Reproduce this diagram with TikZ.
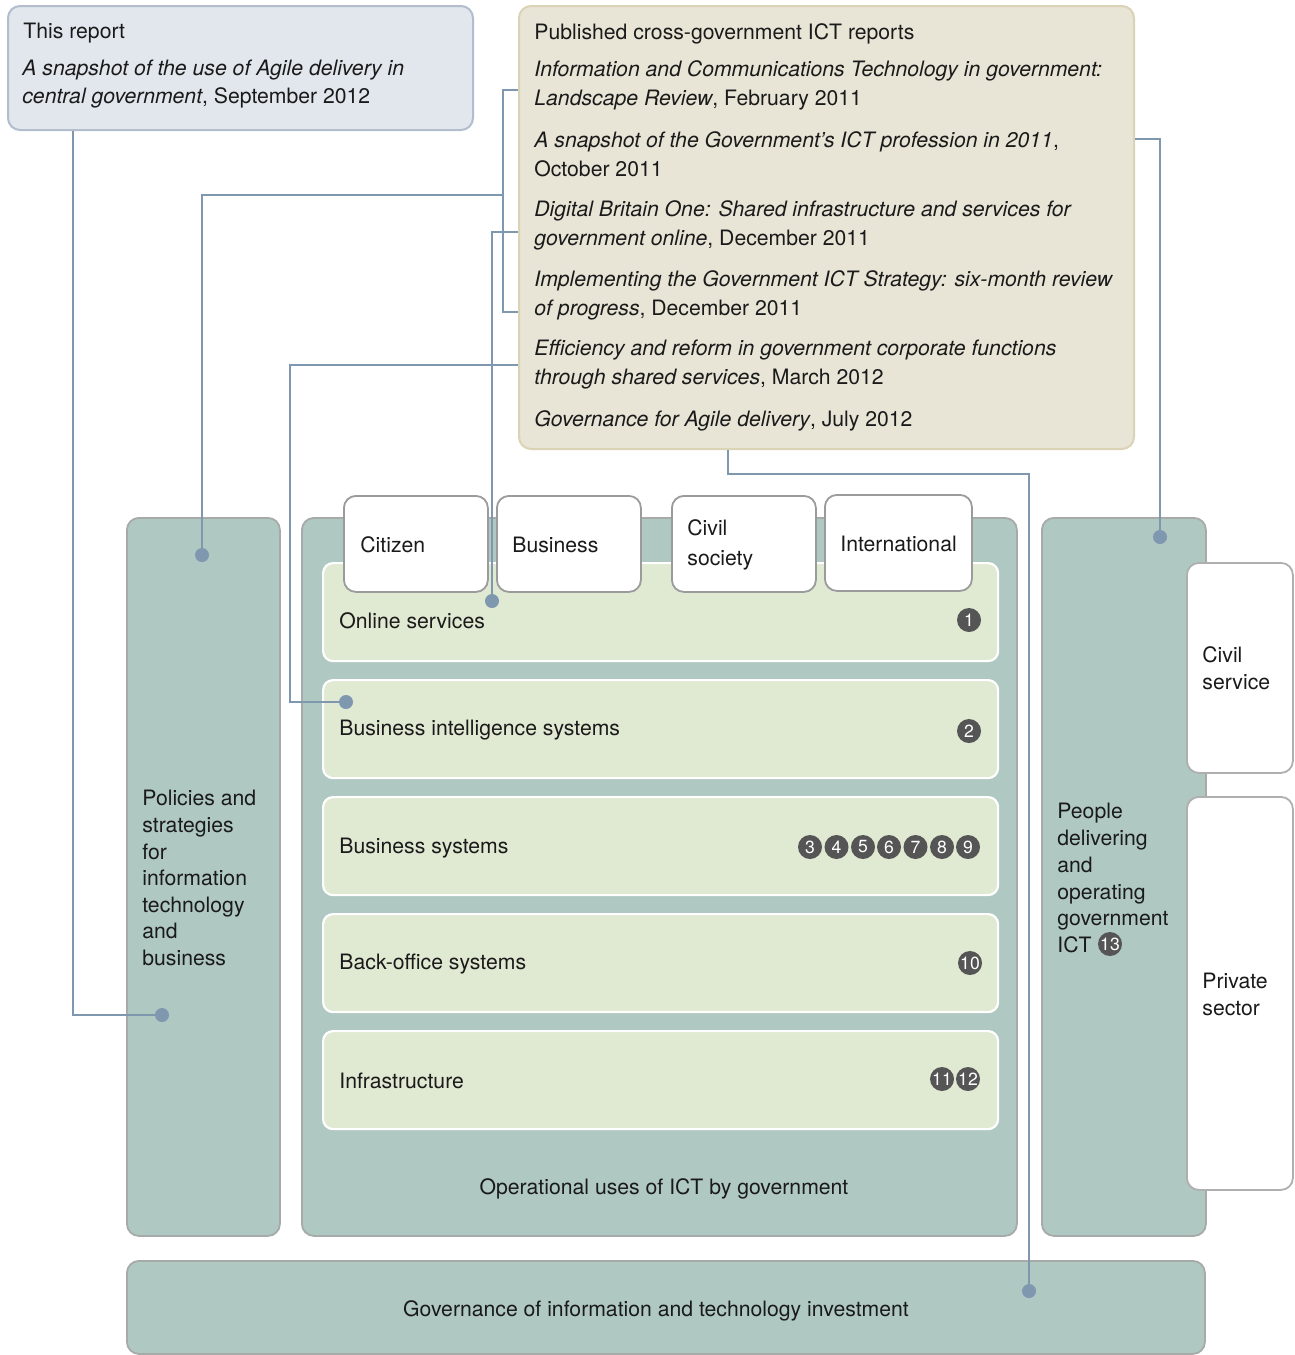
\documentclass[tikz,border=0pt]{standalone}
\usepackage{fontspec}
\setmainfont{TeX Gyre Heros}
\usepackage{xcolor}
\usetikzlibrary{positioning}
\definecolor{thisfill}{RGB}{226,231,238}
\definecolor{thisdraw}{RGB}{178,190,206}
\definecolor{pubfill}{RGB}{232,228,214}
\definecolor{pubdraw}{RGB}{218,211,182}
\definecolor{pillarfill}{RGB}{175,200,194}
\definecolor{pillardraw}{RGB}{166,170,168}
\definecolor{rowfill}{RGB}{224,233,210}
\definecolor{tabdraw}{RGB}{155,155,155}
\definecolor{linkcol}{RGB}{128,151,176}
\definecolor{numfill}{RGB}{85,85,85}
\definecolor{inkcol}{RGB}{26,26,26}
\tikzset{
  every node/.style={font=\fontsize{10.6}{13.3}\selectfont,text=inkcol},
  thisbox/.style={fill=thisfill,draw=thisdraw,line width=1pt,rounded corners=6pt,anchor=north west,inner sep=0pt},
  pubbox/.style={fill=pubfill,draw=pubdraw,line width=1pt,rounded corners=6pt,anchor=north west,inner sep=0pt},
  pillar/.style={fill=pillarfill,draw=pillardraw,line width=0.9pt,rounded corners=6pt,anchor=north west,inner sep=0pt},
  rowbox/.style={fill=rowfill,draw=white,line width=1.1pt,rounded corners=5pt,anchor=north west,inner sep=0pt,minimum width=337.5pt,minimum height=49pt},
  tabbox/.style={fill=white,draw=tabdraw,line width=0.9pt,rounded corners=6pt,anchor=north west,inner sep=0pt,minimum height=48pt},
  sidebox/.style={fill=white,draw=tabdraw!80,line width=0.9pt,rounded corners=6pt,anchor=north west,inner sep=0pt,minimum width=53pt},
  lbl/.style={anchor=west,align=left,inner sep=0pt,yshift=-0.6pt},
  publbl/.style={lbl,font=\fontsize{10.6}{14.5}\selectfont},
  num/.style={circle,fill=numfill,text=white,inner sep=0pt,minimum size=12pt,font=\fontsize{8.8}{8.8}\selectfont},
  link/.style={draw=linkcol,line width=1pt},
  endpt/.style={circle,fill=linkcol,inner sep=0pt,minimum size=7pt}
}
\begin{document}
\begin{tikzpicture}[x=0.5pt,y=-0.5pt]
\useasboundingbox (0,0) rectangle (1295,1355);
% report boxes
\node[thisbox,minimum width=232.5pt,minimum height=62pt] (thisrep) at (7,5) {};
\node[lbl] at (23,32) {This report};
\node[lbl,font=\fontsize{10.6}{14}\selectfont] at (22,83) {\textit{A snapshot of the use of Agile delivery in}\\\textit{central government}, September 2012};
\node[pubbox,minimum width=307.5pt,minimum height=221.5pt] (pub) at (518,5) {};
\node[lbl] at (534,33) {Published cross-government ICT reports};
\node[publbl] at (534,84.5) {\textit{Information and Communications Technology in government:}\\\textit{Landscape Review}, February 2011};
\node[publbl] at (534,153.5) {\textit{A snapshot of the Government's ICT profession in 2011},\\October 2011};
\node[publbl] at (534,224) {\textit{Digital Britain One: Shared infrastructure and services for}\\\textit{government online}, December 2011};
\node[publbl] at (534,294.5) {\textit{Implementing the Government ICT Strategy: six-month review}\\\textit{of progress}, December 2011};
\node[publbl] at (534,363.5) {\textit{Efficiency and reform in government corporate functions}\\\textit{through shared services}, March 2012};
\node[publbl] at (534,420) {\textit{Governance for Agile delivery}, July 2012};
% pillars
\node[pillar,minimum width=76.5pt,minimum height=359pt] (policy) at (126,517) {};
\node[pillar,minimum width=357.5pt,minimum height=359pt] (ops) at (301,517) {};
\node[pillar,minimum width=82pt,minimum height=359pt] (people) at (1041,517) {};
\node[pillar,minimum width=539pt,minimum height=46.5pt] (gov) at (126,1260) {};
% rows of operational uses
\node[rowbox] (online) at (322,562) {};
\node[rowbox] (bi) at (322,679) {};
\node[rowbox] (bizsys) at (322,796) {};
\node[rowbox] (backoff) at (322,913) {};
\node[rowbox] (infra) at (322,1030) {};
\node[lbl] at (339,619.5) {Online services};
\node[lbl] at (339,729) {Business intelligence systems};
\node[lbl] at (339,847) {Business systems};
\node[lbl] at (339,963) {Back-office systems};
\node[lbl] at (339,1080) {Infrastructure};
% user tabs
\node[tabbox,minimum width=72pt] (citizen) at (343,495) {};
\node[tabbox,minimum width=72pt] (business) at (496,495) {};
\node[tabbox,minimum width=72pt] (civsoc) at (671,495) {};
\node[tabbox,minimum width=73.5pt] (intl) at (824,494) {};
\node[lbl] at (360,543.5) {Citizen};
\node[lbl] at (512,543.5) {Business};
\node[lbl,font=\fontsize{10.6}{15}\selectfont] at (687,544) {Civil\\society};
\node[lbl] at (840,542.5) {International};
% people side boxes
\node[sidebox,minimum height=105pt] (civserv) at (1186,562) {};
\node[sidebox,minimum height=196.5pt] (private) at (1186,796) {};
\node[lbl,font=\fontsize{10.6}{13.5}\selectfont] at (1202,667.5) {Civil\\service};
\node[lbl,font=\fontsize{10.6}{13.5}\selectfont] at (1202,993.5) {Private\\sector};
% pillar labels
\node[lbl] at (142,877) {Policies and\\strategies\\for\\information\\technology\\and\\business};
\node[lbl,font=\fontsize{10.6}{13.4}\selectfont] at (1057,877) {People\\delivering\\and\\operating\\government\\ICT};
\node at (664,1189) {Operational uses of ICT by government};
\node at (656,1311) {Governance of information and technology investment};
% numbered notes
\node[num] (n1) at (969,620) {1};
\node[num] (n2) at (969,731) {2};
\foreach \k/\x in {3/810,4/836.5,5/863,6/889,7/915.5,8/942,9/968}
  \node[num] (n\k) at (\x,847) {\k};
\node[num] (n10) at (970,963) {10};
\node[num] (n11) at (942,1079) {11};
\node[num] (n12) at (968,1079) {12};
\node[num] (n13) at (1110,944) {13};
% link end points
\node[endpt] (dotpolicytop) at (202,555) {};
\node[endpt] (dotpolicylow) at (162,1015) {};
\node[endpt] (dotonline) at (492,601) {};
\node[endpt] (dotbi) at (346,702) {};
\node[endpt] (dotpeople) at (1160,537) {};
\node[endpt] (dotgov) at (1029,1291) {};
\coordinate (brk) at (503,195);
% links from reports
\draw[link] (thisrep.south -| 73,0) |- (dotpolicylow);
\draw[link] (pub.west |- 0,90) -| (brk) |- (pub.west |- 0,312);
\draw[link] (brk) -| (dotpolicytop);
\draw[link] (pub.west |- 0,232) -| (dotonline);
\draw[link] (pub.west |- 0,365) -| (290,702) -- (dotbi);
\draw[link] (pub.east |- 0,139) -| (dotpeople);
\draw[link] (pub.south -| 728,0) |- (dotgov |- 0,474) -- (dotgov);
\end{tikzpicture}
\end{document}
